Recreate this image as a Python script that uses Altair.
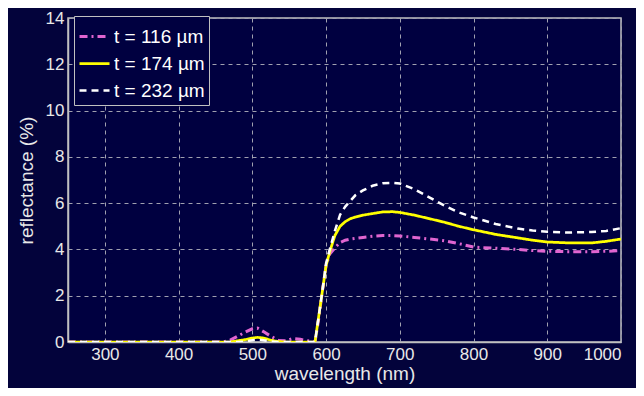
import altair as alt
import pandas as pd

wavelength = [250, 300, 350, 400, 450, 460, 470, 480, 490, 500, 507, 515, 525, 535, 545,
              555, 565, 575, 585, 590, 595, 600, 605, 612, 619, 626, 633, 640, 650, 663,
              677, 690, 700, 720, 740, 760, 780, 800, 830, 860, 880, 900, 930, 960, 980, 1000]

r116 = [0, 0, 0, 0, 0, 0, 0.08, 0.25, 0.42, 0.57, 0.6, 0.45, 0.25, 0.07, 0.05,
        0.15, 0.12, 0.05, 0.0, 1.0, 2.2, 3.3, 3.8, 4.07, 4.3, 4.4, 4.45, 4.48, 4.52, 4.57,
        4.6, 4.6, 4.58, 4.52, 4.45, 4.38, 4.25, 4.1, 4.05, 4.0, 3.95, 3.92, 3.9, 3.9, 3.92, 3.95]

r174 = [0, 0, 0, 0, 0, 0, 0, 0.05, 0.1, 0.17, 0.2, 0.17, 0.08, 0.02, 0,
        0, 0, 0, 0, 1.1, 2.2, 3.3, 3.9, 4.6, 5.0, 5.2, 5.33, 5.4, 5.48, 5.55,
        5.62, 5.63, 5.6, 5.48, 5.33, 5.18, 5.0, 4.85, 4.65, 4.5, 4.4, 4.32, 4.28, 4.28, 4.35, 4.45]

r232 = [0, 0, 0, 0, 0, 0, 0, 0, 0.02, 0.08, 0.1, 0.08, 0.02, 0, 0,
        0, 0, 0, 0, 1.1, 2.2, 3.4, 4.0, 4.8, 5.5, 5.85, 6.1, 6.35, 6.55, 6.75,
        6.86, 6.88, 6.85, 6.6, 6.25, 5.9, 5.6, 5.38, 5.1, 4.9, 4.82, 4.76, 4.73, 4.75, 4.8, 4.92]

series_names = ["t = 116 µm", "t = 174 µm", "t = 232 µm"]
series_colors = ["#e065d0", "#ffff00", "#ffffff"]
series_dash = [[8, 4, 2, 4], [1, 0], [7, 5]]
series_width = [3, 2.5, 3.5]

rows = []
for name, vals in zip(series_names, [r116, r174, r232]):
    for w, v in zip(wavelength, vals):
        rows.append({"wavelength": w, "reflectance": v, "series": name})
df = pd.DataFrame(rows)

FONT = "Liberation Sans"
TXT = "#e8e8e8"
AX = "#c0c0c0"

chart = alt.Chart(df).mark_line(clip=True).encode(
    x=alt.X("wavelength:Q",
            scale=alt.Scale(domain=[250, 1000], nice=False, zero=False),
            axis=alt.Axis(values=[300, 400, 500, 600, 700, 800, 900, 1000],
                          format="d", title="wavelength (nm)")),
    y=alt.Y("reflectance:Q",
            scale=alt.Scale(domain=[0, 14], nice=False),
            axis=alt.Axis(values=[0, 2, 4, 6, 8, 10, 12, 14],
                          title="reflectance (%)")),
    color=alt.Color("series:N",
                    scale=alt.Scale(domain=series_names, range=series_colors),
                    legend=alt.Legend(title=None, orient="none", legendX=6, legendY=-2,
                                      symbolType="stroke", symbolSize=900,
                                      symbolStrokeWidth=3,
                                      labelFontSize=19, labelColor="#ffffff",
                                      labelFont=FONT, labelOffset=3,
                                      rowPadding=0, padding=4,
                                      strokeColor=AX, fillColor="#000040")),
    strokeDash=alt.StrokeDash("series:N",
                              scale=alt.Scale(domain=series_names, range=series_dash),
                              legend=None),
    strokeWidth=alt.StrokeWidth("series:N",
                                scale=alt.Scale(domain=series_names, range=series_width),
                                legend=None),
    order=alt.Order("series:N"),
).properties(
    width=553, height=324,
    padding={"left": 60, "top": 10, "right": 15, "bottom": 46},
    autosize="none",
).configure(
    background="#03033b",
).configure_view(
    fill="#000040", stroke=AX, strokeWidth=1.5,
).configure_axis(
    labelFont=FONT, titleFont=FONT, labelColor=TXT, titleColor=TXT,
    labelFontSize=17, titleFontSize=19, titleFontWeight="normal",
    domainColor=AX, domainWidth=1.5, ticks=False,
    grid=True, gridColor="#a0a0b0", gridDash=[4, 4], gridWidth=1,
    labelPadding=4,
).configure_axisY(
    titlePadding=9,
).configure_axisX(
    titlePadding=2,
)

chart.save("out.html", embed_options={"renderer": "svg", "actions": False})
